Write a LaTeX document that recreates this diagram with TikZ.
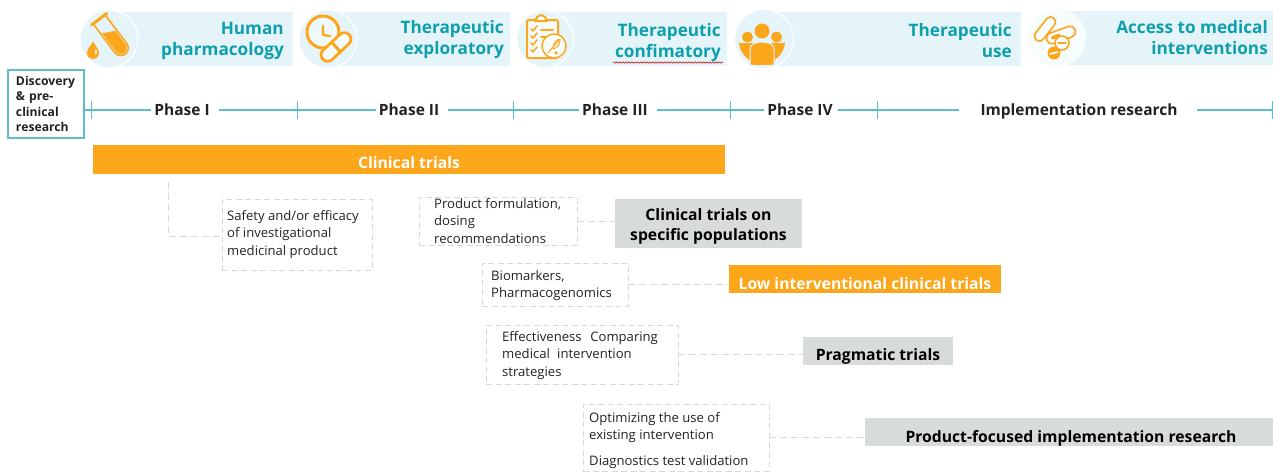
\documentclass[tikz,border=0pt]{standalone}
\usepackage{fontspec}
\setmainfont{Open Sans}
\usetikzlibrary{decorations.pathmorphing}
\definecolor{bannerc}{HTML}{E4F4F8}
\definecolor{tealt}{HTML}{0E9FAE}
\definecolor{teall}{HTML}{5CBEC9}
\definecolor{orangec}{HTML}{FBA61B}
\definecolor{greyc}{HTML}{D8DCD9}
\definecolor{dashc}{HTML}{D9D9D9}
\definecolor{darkt}{HTML}{222222}
\tikzset{
  x=1pt,y=-1pt,
  banner/.style={fill=bannerc,draw=none},
  iconbg/.style={fill=bannerc,draw=white,line width=1.2pt},
  bannertext/.style={text=tealt,font=\fontsize{17.2}{21}\selectfont\bfseries,align=right,anchor=east,inner sep=0pt},
  tline/.style={draw=teall,line width=1.2pt},
  tickm/.style={draw=teall,line width=0.9pt},
  phase/.style={text=darkt,font=\fontsize{15.5}{18}\selectfont\bfseries,inner xsep=1pt,inner ysep=0pt,anchor=base},
  dbox/.style={draw=dashc,line width=0.9pt,dash pattern=on 6pt off 3.5pt,anchor=center,inner sep=0pt},
  dtext/.style={align=left,anchor=west,text=darkt,font=\fontsize{13.1}{17.5}\selectfont,inner sep=0pt},
  dline/.style={draw=dashc,line width=0.9pt,dash pattern=on 7pt off 4pt},
  headbox/.style={font=\fontsize{15.7}{20}\selectfont\bfseries,align=center,inner sep=0pt,anchor=base,text=black},
  headfill/.style={inner sep=0pt,anchor=center},
  ic/.style={draw=orangec,line width=2.2pt,line join=round,line cap=round},
}
\begin{document}
\begin{tikzpicture}
\useasboundingbox (0,0) rectangle (1273,471);
% banners
\fill[banner] (109,12) rectangle (293,66);
\fill[banner] (328,12) rectangle (510,66);
\fill[banner] (545,12) rectangle (727,66);
\fill[banner] (764,12) rectangle (1021,66);
\fill[banner] (1057,11) rectangle (1273,65);
\draw[iconbg] (109,39) circle (29);
\draw[iconbg] (328,39) circle (29);
\draw[iconbg] (545,39) circle (28.5);
\draw[iconbg] (764,39) circle (29.5);
\draw[fill=white!70!bannerc,draw=none] (1057,38) circle (29);
% test tube
\begin{scope}[shift={(98.5,18.5)},rotate=37]
  \fill[orangec] (-6,14) -- (6,20) -- (6,37) arc[start angle=0,end angle=180,radius=6] -- cycle;
  \draw[ic,line width=1.6pt] (-7.5,2) -- (-7.5,37) arc[start angle=180,delta angle=-180,radius=7.5] -- (7.5,2);
  \draw[ic,line width=3pt] (-9.5,1) -- (9.5,1);
\end{scope}
\fill[orangec] (93,41) .. controls (94,45) and (99,48) .. (99,53) arc[start angle=0,delta angle=180,radius=6] .. controls (87,48) and (92,45) .. (93,41) -- cycle;
\fill[bannerc] (95,49.5) arc[start angle=-90,delta angle=180,radius=2.3] -- cycle;
% clock and pill
\draw[ic,line width=3pt,fill=white!40!bannerc] (323,32) circle (16);
\draw[ic,line width=2.4pt] (323,26) -- (323,35) -- (330,36);
\begin{scope}[shift={(336,47)},rotate=43]
  \draw[ic,line width=2.8pt,fill=white!60!bannerc,rounded corners=6.5pt] (-18,-6.5) rectangle (18,6.5);
  \fill[orangec] (-1.5,-6.5) rectangle (1.5,6.5);
\end{scope}
% clipboard
\draw[ic,line width=2pt,fill=white!60!bannerc,rounded corners=2pt] (527,20) rectangle (558,58);
\draw[ic,line width=2pt,fill=white!60!bannerc] (535,21) -- (537,17) -- (541,15) -- (545,17) -- (547,21) -- cycle;
\foreach \yy in {29,36,43,50}{
  \draw[ic,line width=1.5pt] (531,\yy) -- (533,\yy+2) -- (537,\yy-3);
}
\draw[ic,line width=1.8pt] (541,30) -- (553,30);
\draw[ic,line width=1.8pt] (541,37) -- (553,37);
\draw[ic,line width=1.5pt,fill=white] (554,46) circle (12);
\draw[ic,line width=1pt] (548,53) -- (559,40);
\draw[ic,line width=1pt] (553,49) .. controls (553,43) and (556,40) .. (560,39) .. controls (560,44) and (558,48) .. (553,49);
\fill[orangec] (556,53) circle (1.8);
% people
\fill[orangec] (739,43) -- (755,43) -- (755,62) .. controls (746,60) and (740,52) .. (739,43) -- cycle;
\fill[orangec] (785,43) -- (769,43) -- (769,62) .. controls (778,60) and (784,52) .. (785,43) -- cycle;
\draw[fill=orangec,draw=bannerc,line width=1pt] (750,49) .. controls (750,44) and (756,42) .. (762,42) .. controls (768,42) and (774,44) .. (774,49) -- (774,65) .. controls (767,66) and (757,66) .. (750,65) -- cycle;
\fill[orangec] (762,31) circle (7.5);
\fill[orangec] (747.5,37) circle (5.5);
\fill[orangec] (776.5,37) circle (5.5);
% pills
\begin{scope}[shift={(1045,29)},rotate=52]
  \draw[ic,line width=1.6pt,rounded corners=4.8pt] (-14,-5) rectangle (14,5);
\end{scope}
\begin{scope}[shift={(1061,35)},rotate=20]
  \draw[ic,line width=1.6pt,fill=white!70!bannerc,rounded corners=5pt] (-15,-5.5) rectangle (15,5.5);
  \fill[orangec,rounded corners=1pt] (-10,-2) rectangle (-1,1.5);
\end{scope}
\draw[ic,line width=1.6pt,fill=white!70!bannerc] (1062,43) circle (7);
\draw[ic,line width=1.4pt] (1058,43) -- (1066,43);
\fill[orangec] (1054,53) circle (6.5);
\draw[white,line width=1.6pt] (1050,54) -- (1058,52);
% banner text
\node[bannertext] (bt1) at (284,40.5) {Human\\pharmacology};
\node[bannertext] (bt2) at (504,39.5) {Therapeutic\\exploratory};
\node[bannertext] (bt3) at (721,43) {Therapeutic\\confimatory};
\node[bannertext] (bt4) at (1012,40.5) {Therapeutic\\use};
\node[bannertext] (bt5) at (1268,37.5) {Access to medical\\interventions};
\draw[draw=red!75!black,line width=0.5pt,decorate,decoration={snake,amplitude=0.7pt,segment length=3pt}] (613,62.5) -- (723,62.5);
% timeline
\node[draw=teall,line width=1.2pt,minimum width=76pt,minimum height=68pt,inner sep=0pt,anchor=center,text width=60pt,align=left,font=\fontsize{12.2}{15.3}\selectfont\bfseries,text=darkt] (disc) at (46,104) {\raisebox{-2pt}{Discovery}\\[0pt]\raisebox{-2pt}{\& pre-}\\\raisebox{-2pt}{clinical}\\\raisebox{-2pt}{research}};
\coordinate (t0) at (91,110);
\coordinate (t1) at (297,110);
\coordinate (t2) at (513,110);
\coordinate (t3) at (730,110);
\coordinate (t4) at (877,110);
\coordinate (t5) at (1272,110);
\foreach \t in {t0,t1,t2,t3,t4,t5}{
  \draw[tickm] ([yshift=9pt]\t) -- ([yshift=-9pt]\t);
}
\node[phase] (p1) at (182,115.5) {Phase I};
\node[phase] (p2) at (409,115.5) {Phase II};
\node[phase] (p3) at (615,115.5) {Phase III};
\node[phase] (p4) at (800,115.5) {Phase IV};
\node[phase] (p5) at (1079,115.5) {Implementation research};
\draw[tline] (disc.east |- t0) -- ([xshift=-2pt]p1.west |- t0);
\draw[tline] ([xshift=8pt]p1.east |- t0) -- (t1) -- ([xshift=-2pt]p2.west |- t0);
\draw[tline] ([xshift=8pt]p2.east |- t0) -- (t2) -- ([xshift=-2pt]p3.west |- t0);
\draw[tline] ([xshift=8pt]p3.east |- t0) -- (t3) -- ([xshift=-2pt]p4.west |- t0);
\draw[tline] ([xshift=4pt]p4.east |- t0) -- (t4) -- ([xshift=-20pt]p5.west |- t0);
\draw[tline] ([xshift=18pt]p5.east |- t0) -- (t5);
% clinical trials
\node[fill=orangec,minimum width=632pt,minimum height=29pt,headfill] (ct) at (409,159.5) {};
\node[headbox,text=white] (ctl) at (409,168.5) {Clinical trials};
% dashed boxes
\node[dbox,minimum width=150pt,minimum height=71pt] (b1) at (297,234.5) {};
\node[dtext] (b1t) at (227,234.5) {Safety and/or efficacy\\of investigational\\medicinal product};
\node[dbox,minimum width=158pt,minimum height=48pt] (b2) at (498,221) {};
\node[dtext] (b2t) at (434,221) {Product formulation,\\dosing\\recommendations};
\node[dbox,minimum width=146pt,minimum height=43pt] (b3) at (555,284.5) {};
\node[dtext] (b3t) at (491,285.5) {Biomarkers,\\Pharmacogenomics};
\node[dbox,minimum width=192pt,minimum height=59pt] (b4) at (582,354.5) {};
\node[dtext] (b4t) at (502,355.5) {Effectiveness\hspace{0.4em} Comparing\\medical\hspace{0.3em} intervention\\strategies};
\node[dbox,minimum width=186pt,minimum height=67pt] (b5) at (676,437.5) {};
\node[dtext] (b5t) at (589,440.5) {Optimizing the use of\\existing intervention\\[8pt]Diagnostics test validation};
% heads
\node[fill=greyc,headfill,minimum width=187pt,minimum height=49pt] (h2) at (708.5,223.5) {};
\node[headbox,anchor=center] (h2l) at (708.5,226) {Clinical trials on\\specific populations};
\node[fill=orangec,headfill,minimum width=272pt,minimum height=28pt] (h3) at (865,279) {};
\node[headbox,text=white] (h3l) at (865,289.5) {Low interventional clinical trials};
\node[fill=greyc,headfill,minimum width=150pt,minimum height=28pt] (h4) at (878,351) {};
\node[headbox] (h4l) at (878,360.5) {Pragmatic trials};
\node[fill=greyc,headfill,minimum width=408pt,minimum height=28pt] (h5) at (1069,432) {};
\node[headbox] (h5l) at (1071,442.5) {Product-focused implementation research};
% connectors
\coordinate (ctdrop) at (168,182);
\coordinate (b1in) at (222,236);
\draw[dline] (ctdrop) |- (b1in);
\draw[dline] (b2.east) -- (b2.east -| h2.west);
\draw[dline] (b3.east) -- (b3.east -| h3.west);
\draw[dline] (b4.east) -- (b4.east -| h4.west);
\draw[dline] (b5.east) -- (b5.east -| h5.west);
\end{tikzpicture}
\end{document}
